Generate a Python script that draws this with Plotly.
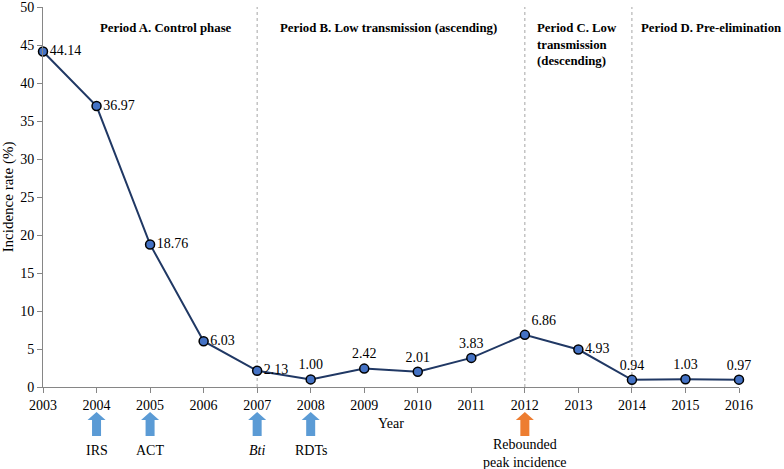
import plotly.graph_objects as go

# ---- data ----
years = list(range(2003, 2017))
incidence = [44.14, 36.97, 18.76, 6.03, 2.13, 1.00, 2.42, 2.01, 3.83, 6.86, 4.93, 0.94, 1.03, 0.97]
label_pos = (["middle right"] * 5 + ["top center"] * 4 +
             ["top right", "middle right", "top center", "top center", "top center"])

period_bounds = [2007, 2012, 2014]
period_texts = ["Period A. Control phase",
                "Period B. Low transmission (ascending)",
                "Period C. Low<br>transmission<br>(descending)",
                "Period D. Pre-elimination"]

intervention_years = [2004, 2005, 2007, 2008]
intervention_labels = ["IRS", "ACT", "<i>Bti</i>", "RDTs"]
rebound_year = [2012]
rebound_label = ["Rebounded<br>peak incidence"]

# ---- layout geometry (pixels) ----
W, H = 784, 469
L, R, T, B = 43, 45, 7, 82
PW, PH = W - L - R, H - T - B
FONT = "Liberation Serif, Times New Roman, serif"


def px2x(px):
    return (px - L) / PW


def py2y(py):
    return (H - B - py) / PH


fig = go.Figure()
fig.add_trace(go.Scatter(
    x=years, y=incidence, mode="lines+markers+text",
    text=[f"{v:.2f}" for v in incidence], textposition=label_pos,
    textfont=dict(family=FONT, size=14, color="#000000"),
    line=dict(color="#203864", width=2),
    marker=dict(size=9, color="#4472C4", line=dict(color="#000000", width=1.5)),
    cliponaxis=False, showlegend=False, hoverinfo="x+y"))

shapes = []
for xb in period_bounds:
    shapes.append(dict(type="line", xref="x", yref="paper", x0=xb, x1=xb, y0=0, y1=1,
                       line=dict(color="#A6A6A6", width=1, dash="dot"), layer="below"))

yr_px = PW / (2016 - 2003)
HW, hw = 9 / yr_px, 4.5 / yr_px
yt, ym, yb = py2y(412), py2y(420), py2y(436)


def arrow(x, color):
    path = (f"M {x-hw},{yb} L {x-hw},{ym} L {x-HW},{ym} L {x},{yt} "
            f"L {x+HW},{ym} L {x+hw},{ym} L {x+hw},{yb} Z")
    return dict(type="path", xref="x", yref="paper", path=path,
                fillcolor=color, line=dict(width=0))


annotations = []
for x, lab in zip(intervention_years, intervention_labels):
    shapes.append(arrow(x, "#5B9BD5"))
    annotations.append(dict(x=x, xref="x", y=py2y(450), yref="paper", text=lab,
                            showarrow=False, yanchor="middle",
                            font=dict(family=FONT, size=14, color="#000000")))
for x, lab in zip(rebound_year, rebound_label):
    shapes.append(arrow(x, "#ED7D31"))
    annotations.append(dict(x=x, xref="x", y=py2y(453), yref="paper", text=lab,
                            showarrow=False, yanchor="middle",
                            font=dict(family=FONT, size=14, color="#000000")))

# period titles
period_pos = [(166, "center"), (388, "center"), (535, "left"), (639, "left")]
for txt, (px, anc) in zip(period_texts, period_pos):
    annotations.append(dict(x=px2x(px), xref="paper", y=py2y(19), yref="paper",
                            text=f"<b>{txt}</b>", showarrow=False, xanchor=anc,
                            yanchor="top", align="left",
                            font=dict(family=FONT, size=12.8, color="#000000")))

annotations.append(dict(x=0.5, xref="paper", y=py2y(423), yref="paper", text="Year",
                        showarrow=False, yanchor="middle",
                        font=dict(family=FONT, size=14, color="#000000")))

fig.update_layout(
    width=W, height=H, margin=dict(l=L, r=R, t=T, b=B, autoexpand=False),
    plot_bgcolor="white", paper_bgcolor="white",
    font=dict(family=FONT, size=14, color="#000000"),
    shapes=shapes, annotations=annotations,
    xaxis=dict(range=[2003, 2016], dtick=1, tick0=2003, showgrid=False, zeroline=False,
               showline=True, linecolor="#868686", linewidth=1, automargin=False,
               ticks="outside", ticklen=5, tickcolor="#868686",
               ticklabeloverflow="allow",
               tickfont=dict(family=FONT, size=14)),
    yaxis=dict(range=[0, 50], dtick=5, showgrid=False, zeroline=False,
               showline=True, linecolor="#868686", linewidth=1, automargin=False,
               ticks="outside", ticklen=5, tickcolor="#868686",
               ticklabeloverflow="allow",
               tickfont=dict(family=FONT, size=14),
               title=dict(text="Incidence rate (%)", standoff=6,
                          font=dict(family=FONT, size=15))),
)

fig.write_html("out.html", config={"displayModeBar": False},
               post_script="document.body.style.margin='0';")
